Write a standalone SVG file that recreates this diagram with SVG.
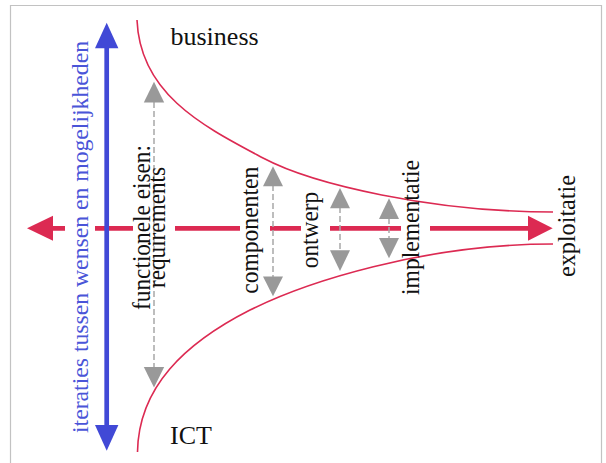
<svg xmlns="http://www.w3.org/2000/svg" width="606" height="463" viewBox="0 0 606 463">
  <defs>
    <style>
      .lbl { font-family: "Liberation Serif", "Times New Roman", serif; font-size: 25px; fill: #111; }
      .big { font-size: 26px; }
      .blue { fill: #4a55d8; font-size: 24px; }
      .curve { fill: none; stroke: #dc2a52; stroke-width: 1.6; }
      .axis { fill: none; stroke: #dc2a52; stroke-width: 4.7; }
      .red { fill: #dc2a52; }
      .bluefill { fill: #4149d6; }
      .bluestroke { stroke: #4149d6; stroke-width: 4.7; fill: none; }
      .iter { stroke: #a8a8a8; stroke-width: 1.5; stroke-dasharray: 6 3; fill: none; }
      .grey { fill: #999999; }
    </style>
  </defs>

  <rect x="0" y="0" width="606" height="463" fill="#ffffff"/>
  <!-- frame -->
  <path d="M10.5 470 V5.5 H601.5 V470" fill="none" stroke="#c2c2c2" stroke-width="1.2"/>

  <g id="connectors">
    <!-- funnel boundary: business side -->
    <path class="curve" d="M137 20 C140 95 205 127 263 158 C313 184.5 433 212 553 212"/>
    <!-- funnel boundary: ICT side -->
    <path class="curve" d="M137.5 452 C138.5 387 185 343 250 310 C305 282.5 423 244 553 244"/>

    <!-- horizontal time axis, dashed -->
    <path class="axis" d="M52 228.3 H65 M95 228.3 H133 M175 228.3 H240 M270 228.3 H301 M330 228.3 H401 M430 228.3 H530"/>
    <polygon class="red" points="27,228.3 53,215.8 53,240.8"/>
    <polygon class="red" points="552.7,228.3 528,215.8 528,240.8"/>

    <!-- vertical iteration axis -->
    <line class="bluestroke" x1="106.7" y1="46" x2="106.7" y2="427"/>
    <polygon class="bluefill" points="106.7,22.7 95,48.3 118.4,48.3"/>
    <polygon class="bluefill" points="106.7,450.7 95,425 118.4,425"/>

    <!-- double-headed phase arrows -->
    <g id="arrow-requirements">
      <line class="iter" x1="154" y1="102" x2="154" y2="368"/>
      <polygon class="grey" points="154,81.7 143.8,102.5 164.2,102.5"/>
      <polygon class="grey" points="154,387.5 143.8,367 164.2,367"/>
    </g>
    <g id="arrow-componenten">
      <line class="iter" x1="273" y1="185" x2="273" y2="277"/>
      <polygon class="grey" points="273,166.2 263,186.2 283,186.2"/>
      <polygon class="grey" points="273,296.2 263,276.5 283,276.5"/>
    </g>
    <g id="arrow-ontwerp">
      <line class="iter" x1="340" y1="207" x2="340" y2="251"/>
      <polygon class="grey" points="340,188 330,208.3 350,208.3"/>
      <polygon class="grey" points="340,271 330,250.3 350,250.3"/>
    </g>
    <g id="arrow-implementatie">
      <line class="iter" x1="389" y1="218" x2="389" y2="239"/>
      <polygon class="grey" points="389,198.3 379,219 399,219"/>
      <polygon class="grey" points="389,258.3 379,238 399,238"/>
    </g>
  </g>

  <g id="node-business">
    <text class="lbl big" x="170.5" y="45">business</text>
  </g>
  <g id="node-ict">
    <text class="lbl big" x="170" y="444.3">ICT</text>
  </g>
  <g id="node-iteraties">
    <text class="lbl blue" transform="translate(88,237) rotate(-90)" text-anchor="middle" textLength="392" lengthAdjust="spacingAndGlyphs">iteraties tussen wensen en mogelijkheden</text>
  </g>
  <g id="node-requirements">
    <text class="lbl" transform="translate(150,227.5) rotate(-90)" text-anchor="middle" textLength="165" lengthAdjust="spacingAndGlyphs">functionele eisen:</text>
    <text class="lbl" transform="translate(165,227.5) rotate(-90)" text-anchor="middle" textLength="121" lengthAdjust="spacingAndGlyphs">requirements</text>
  </g>
  <g id="node-componenten">
    <text class="lbl" transform="translate(258,230.3) rotate(-90)" text-anchor="middle" textLength="127" lengthAdjust="spacingAndGlyphs">componenten</text>
  </g>
  <g id="node-ontwerp">
    <text class="lbl" transform="translate(318,230) rotate(-90)" text-anchor="middle" textLength="76.5" lengthAdjust="spacingAndGlyphs">ontwerp</text>
  </g>
  <g id="node-implementatie">
    <text class="lbl" transform="translate(418.5,227.5) rotate(-90)" text-anchor="middle" textLength="135" lengthAdjust="spacingAndGlyphs">implementatie</text>
  </g>
  <g id="node-exploitatie">
    <text class="lbl" transform="translate(575,226) rotate(-90)" text-anchor="middle" textLength="102" lengthAdjust="spacingAndGlyphs">exploitatie</text>
  </g>
</svg>
